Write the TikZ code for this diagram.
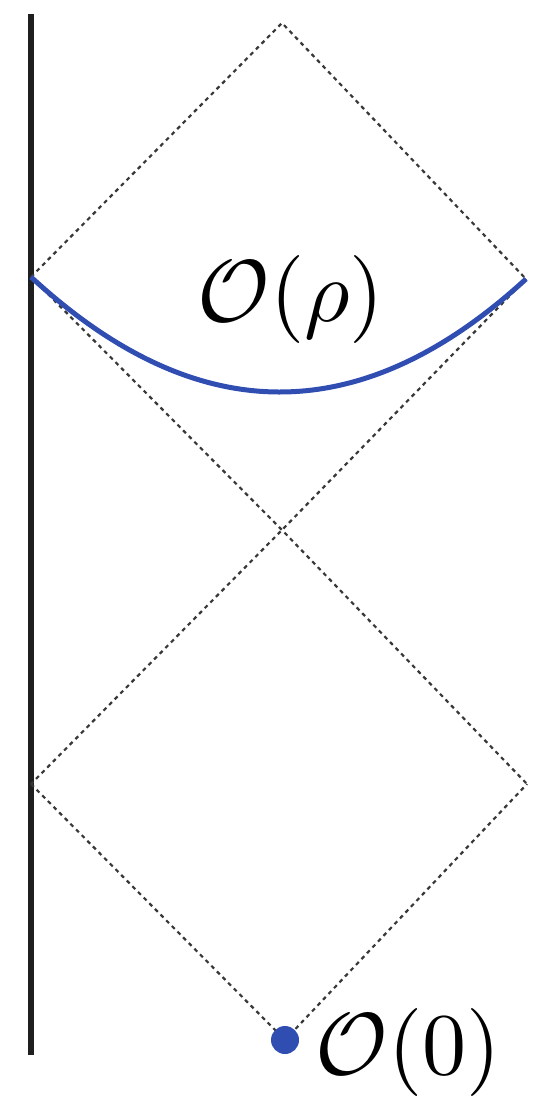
\documentclass[tikz,border=0pt]{standalone}
\usepackage{amsmath}
\definecolor{curveblue}{RGB}{48,78,178}
\begin{document}
\begin{tikzpicture}[x=1pt,y=-1pt,
  lightcone/.style={line width=2.2pt,black!78,dash pattern=on 4pt off 4pt},
  boundary/.style={line width=5.5pt,black!88},
  surface/.style={line width=5pt,curveblue},
  biglabel/.style={inner sep=0pt,scale=8.8,transform shape}]
\useasboundingbox (0,0) rectangle (533,1100);
\coordinate (btop) at (31,14);
\coordinate (bbot) at (31,1055);
\coordinate (T) at (282,23);
\coordinate (L1) at (31,277);
\coordinate (R1) at (526,279);
\coordinate (C) at (282,530);
\coordinate (L2) at (31,784);
\coordinate (R2) at (527,784);
\coordinate (B) at (285,1040);
\draw[boundary] (btop) -- (bbot);
\draw[lightcone] (L1) -- (T) -- (R1);
\draw[lightcone] (L1) -- (C) -- (R2);
\draw[lightcone] (R1) -- (C) -- (L2);
\draw[lightcone] (L2) -- (B) -- (R2);
\draw[surface] (L1) .. controls (197,430) and (361,430) .. (R1);
\fill[curveblue] (B) circle (14);
\node[biglabel] (Orho) at (291,299) {$\mathcal{O}(\rho)$};
\node[biglabel] (Ozero) at (408,1052) {$\mathcal{O}(0)$};
\end{tikzpicture}
\end{document}
